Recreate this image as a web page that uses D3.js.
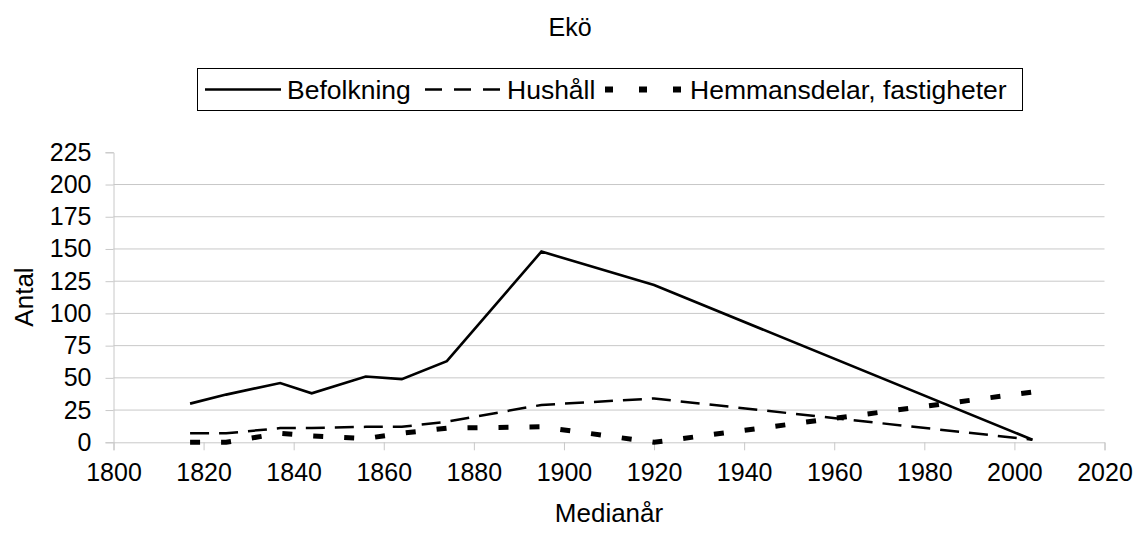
<!DOCTYPE html>
<html>
<head>
<meta charset="utf-8">
<script src="https://cdn.jsdelivr.net/npm/d3@7/dist/d3.min.js"></script>
<style>
  html, body { margin: 0; padding: 0; background: #fff; }
  svg { display: block; }
  text { font-family: "Liberation Sans", Arial, sans-serif; fill: #000; }
</style>
</head>
<body>
<svg id="chart" width="1139" height="535"></svg>
<script>
// ---- data ----
const years      = [1817, 1825, 1837, 1844, 1856, 1864, 1874, 1895, 1920, 2004];
const befolkning = [30, 37, 46, 38, 51, 49, 63, 148, 122, 2];
const hushall    = [7, 7, 11, 11, 12, 12, 16, 29, 34, 2];
const hemmans    = [0, 0, 7, 5, 3, 7, 11, 12, 0, 39];
const seriesNames = ["Befolkning", "Hushåll", "Hemmansdelar, fastigheter"];
const xTicks = [1800, 1820, 1840, 1860, 1880, 1900, 1920, 1940, 1960, 1980, 2000, 2020];
const yTicks = [0, 25, 50, 75, 100, 125, 150, 175, 200, 225];
const titleText = "Ekö";
const xTitle = "Medianår";
const yTitle = "Antal";

// ---- layout ----
const W = 1139, H = 535;
const plot = { left: 113.5, right: 1104.5, top: 152.3, bottom: 442.3 };

const svg = d3.select("#chart");

const x = d3.scaleLinear().domain([1800, 2020]).range([plot.left, plot.right]);
const y = d3.scaleLinear().domain([0, 225]).range([plot.bottom, plot.top]);

// gridlines
svg.append("g")
  .selectAll("line")
  .data(yTicks.filter(d => d > 0 && d < 225))
  .join("line")
  .attr("x1", plot.left).attr("x2", plot.right)
  .attr("y1", d => y(d)).attr("y2", d => y(d))
  .attr("stroke", "#c8c8c8").attr("stroke-width", 1);

// y axis
const yAxis = d3.axisLeft(y).tickValues(yTicks).tickSize(8).tickPadding(14).tickFormat(d3.format("d"));
const gy = svg.append("g").attr("transform", `translate(${plot.left},0)`).call(yAxis);
gy.select(".domain").attr("stroke", "#c8c8c8");
gy.selectAll(".tick line").attr("stroke", "#c8c8c8");
gy.selectAll(".tick text").attr("font-size", 25).attr("font-family", "Liberation Sans, Arial, sans-serif").attr("fill", "#000");

// x axis
const xAxis = d3.axisBottom(x).tickValues(xTicks).tickSize(8).tickPadding(13).tickFormat(d3.format("d"));
const gx = svg.append("g").attr("transform", `translate(0,${plot.bottom})`).call(xAxis);
gx.select(".domain").attr("stroke", "#c8c8c8");
gx.selectAll(".tick line").attr("stroke", "#c8c8c8");
gx.selectAll(".tick text").attr("font-size", 25).attr("font-family", "Liberation Sans, Arial, sans-serif").attr("fill", "#000");

// lines
const styles = [
  { values: befolkning, width: 2.6, dash: null, cap: "butt" },
  { values: hushall,    width: 2.5, dash: "19,10", cap: "butt" },
  { values: hemmans,    width: 5,   dash: "10,21", cap: "butt" }
];
const line = d3.line().x(d => x(d[0])).y(d => y(d[1]));
styles.forEach(s => {
  svg.append("path")
    .datum(years.map((yr, i) => [yr, s.values[i]]))
    .attr("d", line)
    .attr("fill", "none")
    .attr("stroke", "#000")
    .attr("stroke-width", s.width)
    .attr("stroke-linejoin", "miter")
    .attr("stroke-linecap", s.cap)
    .attr("stroke-dasharray", s.dash);
});

// title
svg.append("text").attr("x", 570).attr("y", 36).attr("text-anchor", "middle")
  .attr("font-size", 25).text(titleText);

// axis titles
svg.append("text").attr("x", 609).attr("y", 522).attr("text-anchor", "middle")
  .attr("font-size", 26).text(xTitle);
svg.append("text").attr("transform", "translate(33,297) rotate(-90)").attr("text-anchor", "middle")
  .attr("font-size", 26).text(yTitle);

// legend
const lg = svg.append("g");
lg.append("rect").attr("x", 197.5).attr("y", 68.5).attr("width", 825).attr("height", 42)
  .attr("fill", "#fff").attr("stroke", "#000").attr("stroke-width", 1);
const legendItems = [
  { x0: 205, x1: 281, tx: 287, width: 2.5, dash: null },
  { x0: 425, x1: 501, tx: 507, width: 2.5, dash: "17,12" },
  { x0: 605, x1: 681, tx: 690, width: 6,   dash: "8,26" }
];
legendItems.forEach((it, i) => {
  lg.append("line").attr("x1", it.x0).attr("x2", it.x1).attr("y1", 89.5).attr("y2", 89.5)
    .attr("stroke", "#000").attr("stroke-width", it.width).attr("stroke-dasharray", it.dash);
  lg.append("text").attr("x", it.tx).attr("y", 98.5).attr("font-size", 26.5).text(seriesNames[i]);
});
</script>
</body>
</html>
